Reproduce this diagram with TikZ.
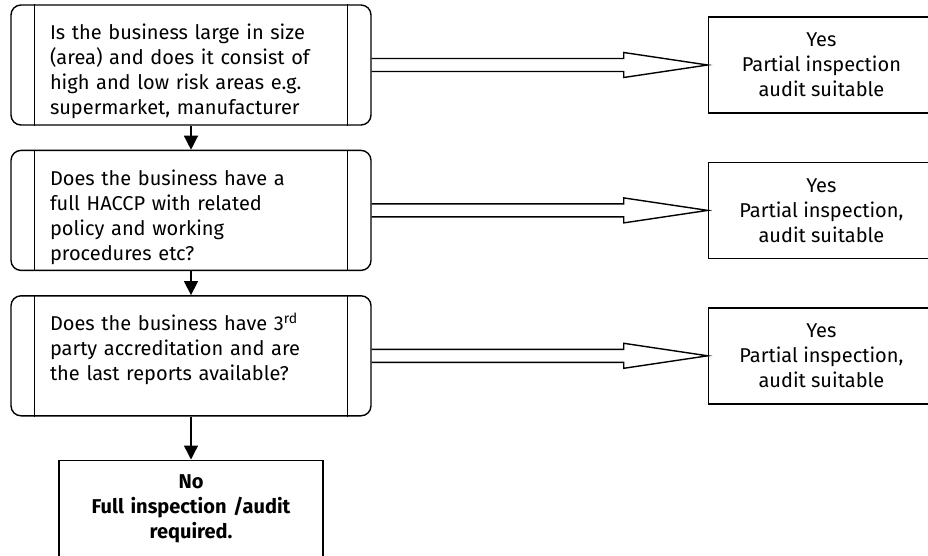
\documentclass[tikz,border=0pt]{standalone}
\usepackage{fontspec}
\setmainfont{Fira Sans}
\usepackage{tikz}
\usetikzlibrary{
  arrows.meta,
  positioning,
  calc
}

\tikzset{
  question/.style={draw, rounded corners=10pt, line width=1.4pt, minimum width=360pt,
        text width=282pt, inner xsep=39pt, inner ysep=0pt, align=left,
        text height=35pt, text depth=85pt, font=\fontsize{20}{25}\selectfont},
  answer/.style={draw, line width=1.4pt, minimum width=226pt, minimum height=96pt,
        align=center, font=\fontsize{20}{25}\selectfont},
  verdict/.style={draw, line width=1.4pt, text width=240pt, inner xsep=12pt, inner ysep=0pt,
        align=center, text height=28pt, text depth=86pt, font=\fontsize{20}{25}\selectfont\bfseries},
  down/.style={line width=1.4pt, -{Triangle[length=14pt,width=14pt]}}
}

% hollow block arrow from a question to its answer
\newcommand{\yesarrow}[2]{%
  \draw[line width=1.4pt, line join=miter]
    ($(#1.east)+(0,6.5pt)$) -- ($(#2.west)+(-84pt,6.5pt)$) -- ($(#2.west)+(-84pt,12.5pt)$)
    -- (#2.west) -- ($(#2.west)+(-84pt,-12.5pt)$) -- ($(#2.west)+(-84pt,-6.5pt)$)
    -- ($(#1.east)+(0,-6.5pt)$);}

\begin{document}
\begin{tikzpicture}
\useasboundingbox (0,0) rectangle (928pt,-556pt);

\node[question] (q1) at (191pt,-65pt) {Is the business large in size\\(area) and does it consist of\\high and low risk areas e.g.\\supermarket, manufacturer};
\node[question, below=24pt of q1] (q2) {Does the business have a\\full HACCP with related\\policy and working\\procedures etc?};
\node[question, below=24pt of q2] (q3) {Does the business have 3\textsuperscript{rd}\\party accreditation and are\\the last reports available?};

\foreach \q in {q1, q2, q3} {
  \draw[line width=1.4pt] ([xshift=24pt]\q.north west) -- ([xshift=24pt]\q.south west);
  \draw[line width=1.4pt] ([xshift=-24pt]\q.north east) -- ([xshift=-24pt]\q.south east);
}

\node[answer, right=336pt of q1] (a1) {Yes\\Partial inspection\\audit suitable};
\node[answer, right=336pt of q2] (a2) {Yes\\Partial inspection,\\audit suitable};
\node[answer, right=336pt of q3] (a3) {Yes\\Partial inspection,\\audit suitable};

\node[verdict, below=43pt of q3] (no) {No\\Full inspection /audit\\required.};

\draw[down] (q1) -- (q2);
\draw[down] (q2) -- (q3);
\draw[down] (q3) -- (no);

\yesarrow{q1}{a1}
\yesarrow{q2}{a2}
\yesarrow{q3}{a3}
\end{tikzpicture}
\end{document}
